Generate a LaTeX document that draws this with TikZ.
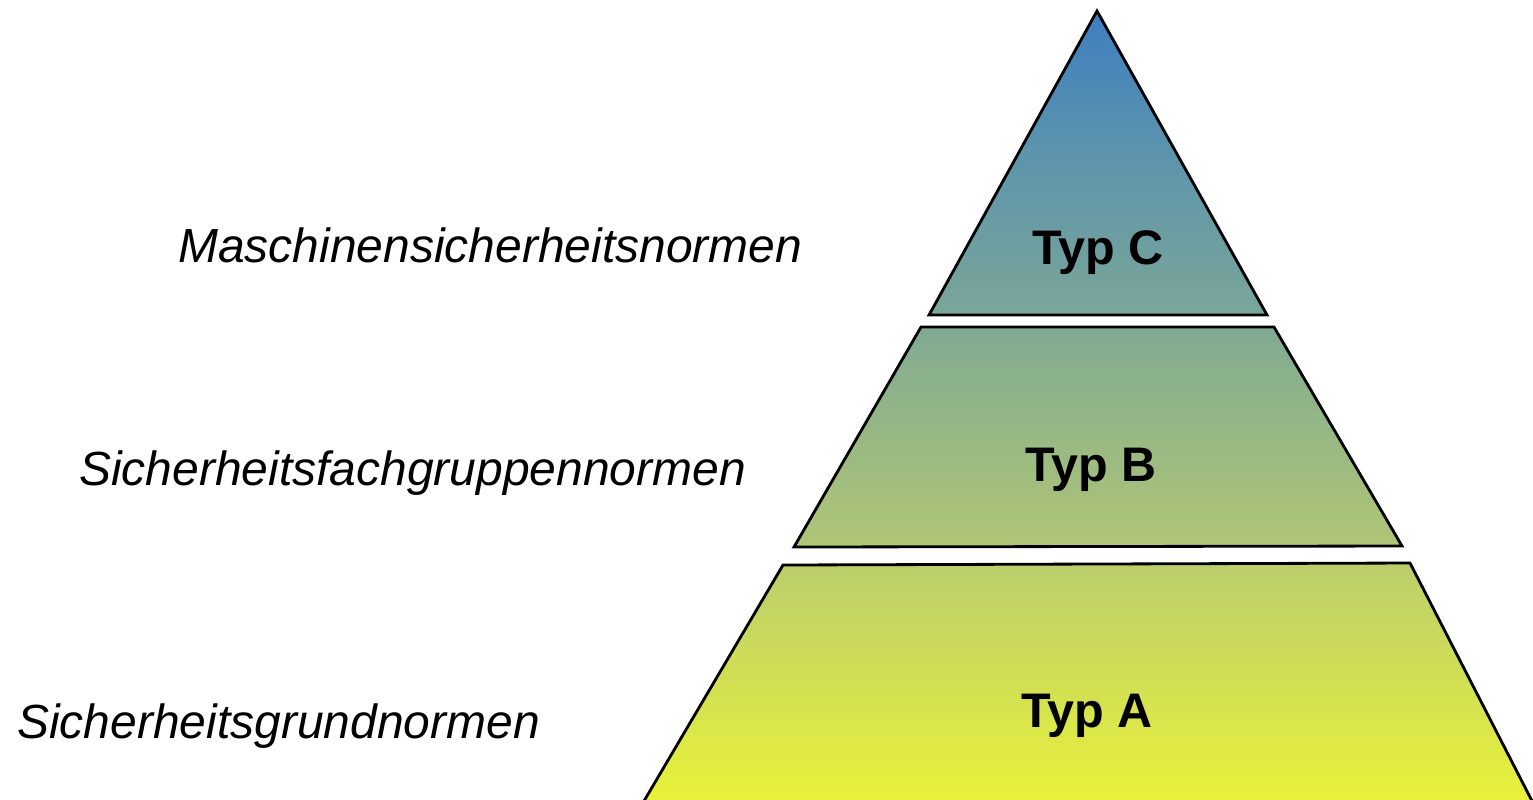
\documentclass[tikz,border=0pt]{standalone}
\usepackage{fontspec}
\setmainfont{Liberation Sans}
\definecolor{cTop}{RGB}{62,126,192}
\definecolor{cC1}{RGB}{96,150,170}
\definecolor{cC2}{RGB}{122,166,152}
\definecolor{cB1}{RGB}{128,170,146}
\definecolor{cB2}{RGB}{176,198,118}
\definecolor{cA1}{RGB}{188,206,108}
\definecolor{cA2}{RGB}{232,241,58}
% vertical: 25bp = y 799 (bottom), 75bp = y 11 (top)
\pgfdeclareverticalshading{pyr}{100bp}{%
  color(0bp)=(cA2); color(25bp)=(cA2); color(39.85bp)=(cA1); color(41bp)=(cB2);
  color(54.95bp)=(cB1); color(55.7bp)=(cC2); color(65bp)=(cC1); color(75bp)=(cTop); color(100bp)=(cTop)}
\begin{document}
\begin{tikzpicture}[x=0.02cm,y=-0.02cm,
  outline/.style={draw=black,line width=1.6pt,line join=miter},
  sidelabel/.style={font=\fontsize{27.3}{30}\selectfont\itshape,anchor=base west,inner sep=0pt},
  typlabel/.style={font=\fontsize{27.6}{30}\selectfont\bfseries,anchor=base,inner sep=0pt}]
\useasboundingbox (0,0) rectangle (1533,799);
% layer shapes
\coordinate (apex) at (1097,11);
\coordinate (cL) at (929,315);
\coordinate (cR) at (1267,315);
\coordinate (bTL) at (921,327);
\coordinate (bTR) at (1274,327);
\coordinate (bBL) at (794,547);
\coordinate (bBR) at (1402,546);
\coordinate (aTL) at (783,565);
\coordinate (aTR) at (1410,563);
\coordinate (aBL) at (644,801);
\coordinate (aBR) at (1532,801);
\begin{scope}
  \clip (apex) -- (cR) -- (cL) -- cycle
        (bTL) -- (bTR) -- (bBR) -- (bBL) -- cycle
        (aTL) -- (aTR) -- (aBR) -- (aBL) -- cycle;
  \shade[shading=pyr] (600,11) rectangle (1540,799);
\end{scope}
\draw[outline] (apex) -- (cR) -- (cL) -- cycle;
\draw[outline] (bTL) -- (bTR) -- (bBR) -- (bBL) -- cycle;
\draw[outline] (aBL) -- (aTL) -- (aTR) -- (aBR);
% labels
\node[typlabel] (tc) at (1098,264) {Typ C};
\node[typlabel] (tb) at (1091,481) {Typ B};
\node[typlabel] (ta) at (1087,727) {Typ A};
\node[sidelabel] (lc) at (178,262) {Maschinensicherheitsnormen};
\node[sidelabel] (lb) at (79,485) {Sicherheitsfachgruppennormen};
\node[sidelabel] (la) at (17,738) {Sicherheitsgrundnormen};
\end{tikzpicture}
\end{document}
